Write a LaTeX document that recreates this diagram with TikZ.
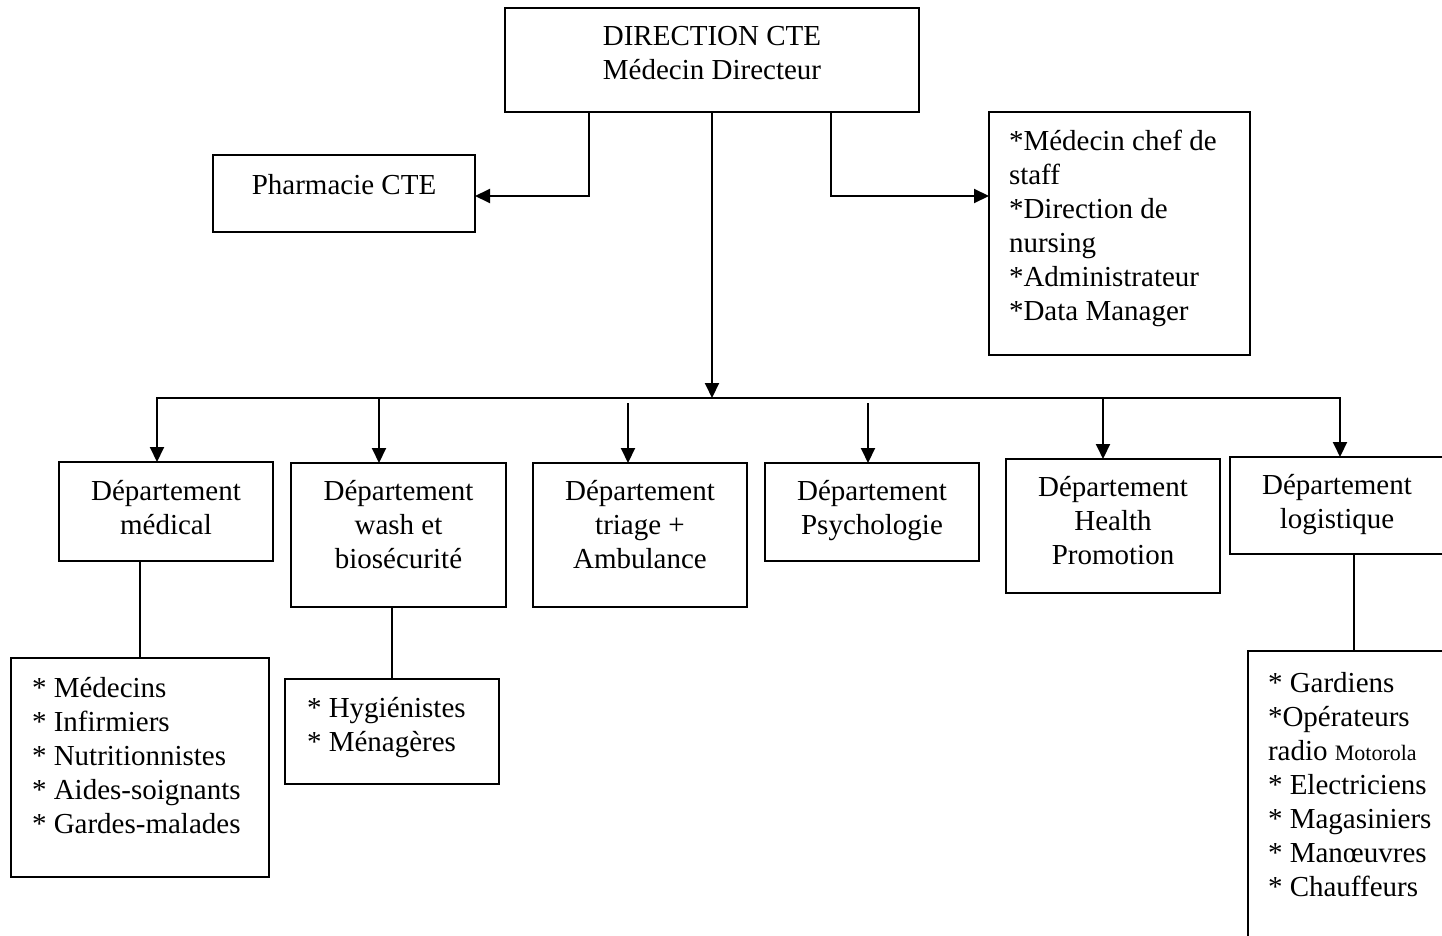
\documentclass[tikz,border=0pt]{standalone}
\usepackage{fontspec}
\setmainfont{Liberation Serif}
\usetikzlibrary{arrows.meta}

\tikzset{
  box/.style={draw, rectangle, line width=2pt, inner sep=0pt, outer sep=0pt},
  txt/.style={inner sep=0pt, outer sep=0pt, font=\fontsize{29}{34}\selectfont},
  % multi-line texts are placed by the baseline of their last line
  ctxt/.style={txt, align=center, anchor=base},
  ltxt/.style={txt, align=left, anchor=base west},
  wire/.style={line width=2pt, line join=miter},
  tip/.tip={Triangle[length=15pt,width=14pt]},
  arr/.style={wire, -tip},
}

\begin{document}
\begin{tikzpicture}[x=1pt, y=-1pt]
\useasboundingbox (0,0) rectangle (1442,936);
\fill[white] (0,0) rectangle (1442,936);
\clip (0,0) rectangle (1442,936);

% boxes
\node[box, minimum width=414pt, minimum height=104pt] (top)    at (712,60)      {};
\node[box, minimum width=262pt, minimum height=77pt]  (pharm)  at (344,193.5)   {};
\node[box, minimum width=261pt, minimum height=243pt] (staff)  at (1119.5,233.5){};
\node[box, minimum width=214pt, minimum height=99pt]  (med)    at (166,511.5)   {};
\node[box, minimum width=215pt, minimum height=144pt] (wash)   at (398.5,535)   {};
\node[box, minimum width=214pt, minimum height=144pt] (triage) at (640,535)     {};
\node[box, minimum width=214pt, minimum height=98pt]  (psych)  at (872,512)     {};
\node[box, minimum width=214pt, minimum height=134pt] (health) at (1113,526)    {};
\node[box, minimum width=216pt, minimum height=97pt]  (logi)   at (1338,505.5)  {};
\node[box, minimum width=258pt, minimum height=219pt] (medsub) at (140,767.5)   {};
\node[box, minimum width=214pt, minimum height=105pt] (washsub) at (392,731.5)  {};
\node[box, minimum width=212pt, minimum height=309pt] (logsub) at (1354,805.5)  {};

% texts
\node[ctxt] (topT)    at (712,80)   {DIRECTION CTE\\Médecin Directeur};
\node[ctxt] (pharmT)  at (344,194)  {Pharmacie CTE};
\node[ltxt] (staffT)  at (1009,320) {*Médecin chef de\\staff\\*Direction de\\nursing\\*Administrateur\\*Data Manager};
\node[ctxt] (medT)    at (166,534)  {Département\\médical};
\node[ctxt] (washT)   at (398.5,568){Département\\wash et\\biosécurité};
\node[ctxt] (triageT) at (640,568)  {Département\\triage +\\Ambulance};
\node[ctxt] (psychT)  at (872,534)  {Département\\Psychologie};
\node[ctxt] (healthT) at (1113,564) {Département\\Health\\Promotion};
\node[ctxt] (logiT)   at (1337,528) {Département\\logistique};
\node[ltxt] (medsubT) at (32,833)   {* Médecins\\* Infirmiers\\* Nutritionnistes\\* Aides-soignants\\* Gardes-malades};
\node[ltxt] (washsubT) at (307,751) {* Hygiénistes\\* Ménagères};
\node[ltxt] (logsubT) at (1268,896)  {* Gardiens\\*Opérateurs\\radio {\fontsize{22}{34}\selectfont Motorola}\\* Electriciens\\* Magasiniers\\* Manœuvres\\* Chauffeurs};

% side branches from the direction
\coordinate (jL) at (589,196);
\coordinate (jR) at (831,196);
\draw[arr] (top.south -| jL) |- (pharm.east |- jL);
\draw[arr] (top.south -| jR) |- (staff.west |- jR);

% main trunk and distribution bus
\coordinate (busL) at (157,398);
\coordinate (busR) at (1340,398);
\draw[arr] (top.south) -- (top.south |- busL);
\draw[wire, tip-tip] (busL |- med.north) -- (busL) -- (busR) -- (busR |- logi.north);

\coordinate (d2) at (379,398);
\coordinate (d3) at (628,403);
\coordinate (d4) at (868,403);
\coordinate (d5) at (1103,398);
\draw[arr] (d2) -- (d2 |- wash.north);
\draw[arr] (d3) -- (d3 |- triage.north);
\draw[arr] (d4) -- (d4 |- psych.north);
\draw[arr] (d5) -- (d5 |- health.north);

% departments to their staff lists
\draw[wire] (med.south -| medsub.north) -- (medsub.north);
\draw[wire] (wash.south -| washsub.north) -- (washsub.north);
\draw[wire] (logi.south -| logsub.north) -- (logsub.north);
\end{tikzpicture}
\end{document}
